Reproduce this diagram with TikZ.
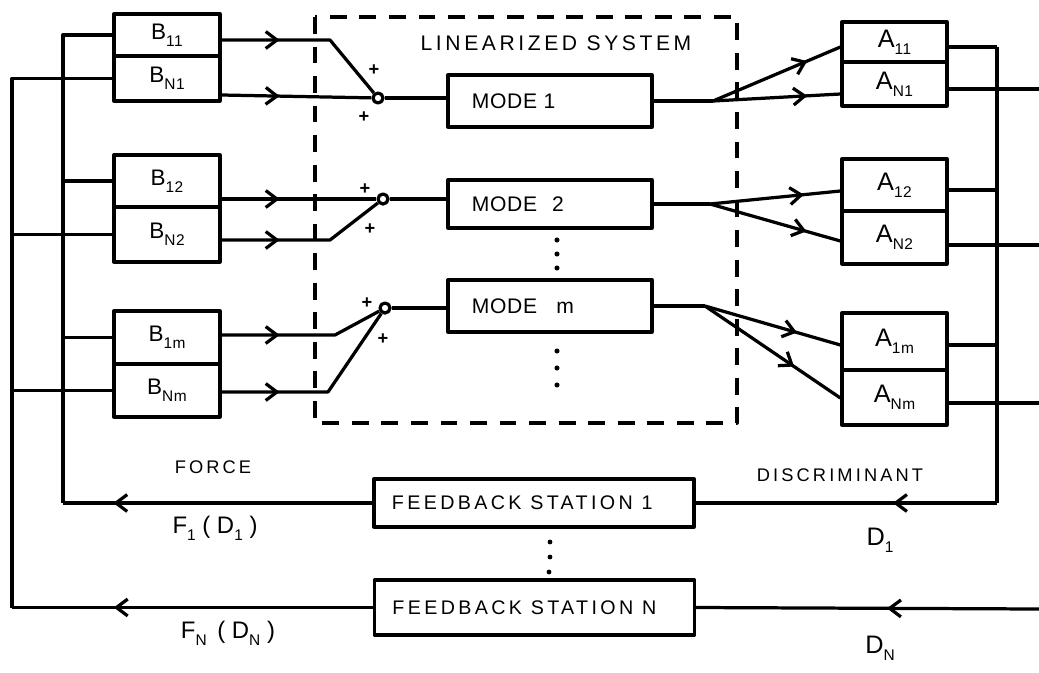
\documentclass[tikz,border=0pt]{standalone}
\usepackage{fontspec}
\setmainfont{Liberation Sans}
\newfontfamily\hwa[LetterSpace=17]{Liberation Sans}
\newfontfamily\hwb[LetterSpace=3]{Liberation Sans}
\usetikzlibrary{arrows.meta,decorations.markings}
\newcommand\lsub[1]{\raisebox{-0.55ex}{\hwb\fontsize{11}{11}\selectfont #1}}
\begin{document}
\begin{tikzpicture}[x=0.025cm,y=-0.025cm,line width=2.3pt,line join=round,
 hd/.tip={Straight Barb[length=8pt,width=12pt]},
 marr/.style={postaction={decorate},decoration={markings,mark=at position #1 with {\arrow{hd}}}},
 blk/.style={draw,inner sep=0pt,minimum width=2.65cm,font=\fontsize{16}{16}\selectfont},
 ablk/.style={draw,inner sep=0pt,minimum width=2.625cm,font=\fontsize{18}{18}\selectfont},
 mbox/.style={draw,inner sep=0pt,minimum width=5.1cm,font=\hwb\fontsize{15}{15}\selectfont},
 fdbox/.style={draw,inner sep=0pt,minimum width=8cm,font=\hwa\fontsize{14}{14}\selectfont},
 sw/.style={draw,circle,inner sep=0pt,minimum size=0.25cm},
 pl/.style={inner sep=0pt,font=\bfseries\fontsize{13}{13}\selectfont},
 lbl/.style={inner sep=0pt,font=\hwa\fontsize{13}{13}\selectfont},
 big/.style={inner sep=0pt,font=\fontsize{17}{17}\selectfont},
]
\useasboundingbox (0,0) rectangle (1039,672);
% linearized system frame
\draw[dash pattern=on 12pt off 9pt] (315,17) rectangle (737,423);
\node[lbl,font=\hwa\fontsize{15}{15}\selectfont] (lin) at (556,43) {LINEARIZED SYSTEM};
% B blocks
\node[blk,minimum height=1.05cm]  (B11) at (167,35)    {B\lsub{11}};
\node[blk,minimum height=1.125cm] (BN1) at (167,78.5)  {B\lsub{N1}};
\node[blk,minimum height=1.3cm]   (B12) at (167,181)   {B\lsub{12}};
\node[blk,minimum height=1.375cm] (BN2) at (167,234.5) {B\lsub{N2}};
\node[blk,minimum height=1.325cm] (B1m) at (167,337.5) {B\lsub{1m}};
\node[blk,minimum height=1.325cm] (BNm) at (167,390.5) {B\lsub{Nm}};
% A blocks
\node[ablk,minimum height=1.0cm]   (A11) at (894.5,42)    {A\lsub{11}};
\node[ablk,minimum height=1.1cm]   (AN1) at (894.5,84)    {A\lsub{N1}};
\node[ablk,minimum height=1.3cm]   (A12) at (894.5,185)   {A\lsub{12}};
\node[ablk,minimum height=1.325cm] (AN2) at (894.5,237.5) {A\lsub{N2}};
\node[ablk,minimum height=1.425cm] (A1m) at (894.5,341.5) {A\lsub{1m}};
\node[ablk,minimum height=1.375cm] (ANm) at (894.5,397.5) {A\lsub{Nm}};
% modes
\node[mbox,minimum height=1.3cm] (M1) at (550,101) {\makebox[3.9cm][l]{MODE 1}};
\node[mbox,minimum height=1.2cm] (M2) at (550,204) {\makebox[3.9cm][l]{MODE\hspace{0.4em} 2}};
\node[mbox,minimum height=1.3cm] (Mm) at (550,306) {\makebox[3.9cm][l]{MODE\hspace{0.6em} m}};
% feedback stations
\node[fdbox,minimum height=1.2cm]   (FS1) at (534,503)   {\makebox[7.1cm][l]{FEEDBACK STATION 1}};
\node[fdbox,minimum height=1.375cm] (FSN) at (534.5,607.5) {\makebox[7.1cm][l]{FEEDBACK STATION N}};
% summing junctions
\node[sw] (S1) at (378,98) {};
\node[sw] (S2) at (383,199) {};
\node[sw] (Sm) at (385,308) {};
\node[pl] (p1a) at (374,70) {+};
\node[pl] (p1b) at (364,117) {+};
\node[pl] (p2a) at (365,189) {+};
\node[pl] (p2b) at (370,229) {+};
\node[pl] (pma) at (367,303) {+};
\node[pl] (pmb) at (383,339) {+};
% bend points
\coordinate (k11) at (330,40);
\coordinate (kN2) at (330,240);
\coordinate (k1m) at (335,335);
\coordinate (kNm) at (328,392);
% B outputs
\draw[marr=1.45cm] (B11.east |- k11) -- (k11) -- (S1);
\draw[marr=1.45cm] (BN1.east |- {(0,95)}) -- (S1);
\draw[marr=1.45cm] (B12.east |- S2) -- (S2);
\draw[marr=1.45cm] (BN2.east |- kN2) -- (kN2) -- (S2);
\draw[marr=1.45cm] (B1m.east |- k1m) -- (k1m) -- (Sm);
\draw[marr=1.45cm] (BNm.east |- kNm) -- (kNm) -- (Sm);
% junction to modes
\draw (S1) -- (S1 -| M1.west);
\draw (S2) -- (S2 -| M2.west);
\draw (Sm) -- (Sm -| Mm.west);
% dots
\fill (557,240) circle (1.8pt) (557,254) circle (1.8pt) (557,268) circle (1.8pt);
\fill (557,351) circle (1.8pt) (557,368) circle (1.8pt) (557,385) circle (1.8pt);
\fill (550,542) circle (1.7pt) (550,557) circle (1.7pt) (549,572) circle (1.7pt);
% mode outputs
\coordinate (q1) at (713,101);
\coordinate (q2) at (710,204);
\coordinate (qm) at (705,306);
\draw (M1.east) -- (q1);
\draw (M2.east) -- (q2);
\draw (Mm.east) -- (qm);
\draw[marr=0.74] (q1) -- (A11.west |- {(0,47)});
\draw[marr=0.74] (q1) -- (AN1.west |- {(0,94)});
\draw[marr=0.72] (q2) -- (A12.west |- {(0,191)});
\draw[marr=0.74] (q2) -- (AN2.west |- {(0,241)});
\draw[marr=0.68] (qm) -- (A1m.west |- {(0,345)});
\draw[marr=0.66] (qm) -- (ANm.west |- {(0,398)});
% A outputs
\coordinate (t1) at (997,47);
\coordinate (t2) at (997,190);
\coordinate (t3) at (997,345);
\coordinate (rv) at (997,503);
\draw (A11.east |- t1) -- (t1);
\draw (A12.east |- t2) -- (t2);
\draw (A1m.east |- t3) -- (t3);
\draw (t1) -- (rv);
\coordinate (e1) at (1039,89);
\coordinate (e2) at (1039,245);
\coordinate (e3) at (1039,403);
\draw (AN1.east |- e1) -- (e1);
\draw (AN2.east |- e2) -- (e2);
\draw (ANm.east |- e3) -- (e3);
% feedback paths
\draw[marr=2.6cm] (rv) -- (FS1.east);
\coordinate (dn) at (1039,609);
\draw[marr=3.8cm] (dn) -- (FSN.east);
\coordinate (l1) at (63,503);
\coordinate (o1) at (12,607.5);
\draw[marr=6.475cm] (FS1.west) -- (l1);
\draw (l1) |- (B11.west);
\draw (B12.west -| l1) -- (B12.west);
\draw (B1m.west -| l1) -- (B1m.west);
\draw[marr=6.475cm] (FSN.west) -- (o1);
\draw (o1) |- (BN1.west);
\draw (BN2.west -| o1) -- (BN2.west);
\draw (BNm.west -| o1) -- (BNm.west);
% labels
\node[lbl] (force) at (213,467) {FORCE};
\node[big] (f1) at (215,528) {F\lsub{1} ( D\lsub{1} )};
\node[big] (fn) at (228,633) {F\lsub{N} \,( D\lsub{N} )};
\node[lbl] (disc) at (840,475) {DISCRIMINANT};
\node[big,font=\fontsize{18}{18}\selectfont] (d1) at (880,540) {D\lsub{1}};
\node[big,font=\fontsize{18}{18}\selectfont] (dN) at (880,648) {D\lsub{N}};
\end{tikzpicture}
\end{document}
